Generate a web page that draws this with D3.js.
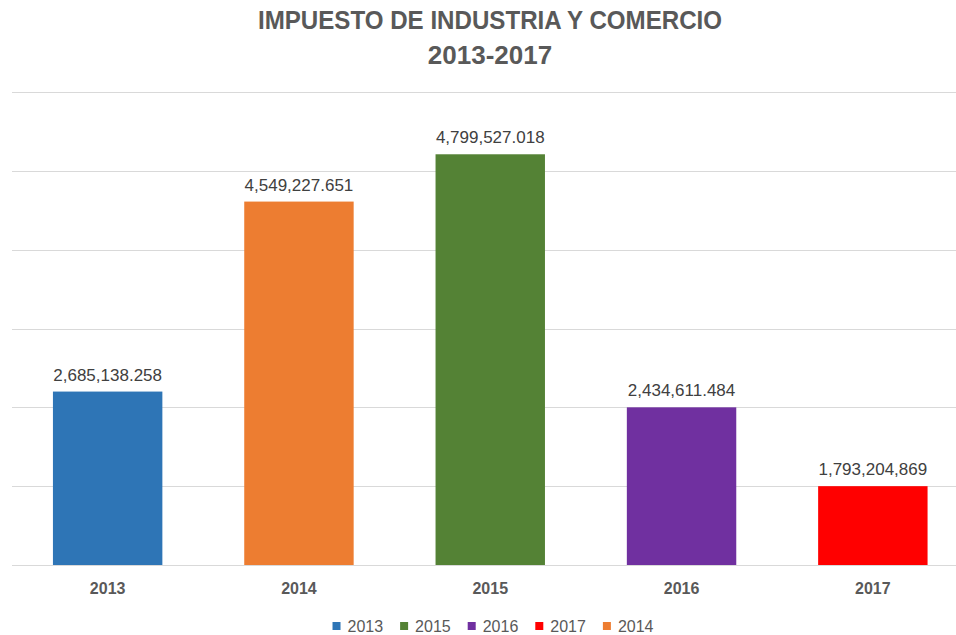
<!DOCTYPE html>
<html lang="es">

<head>
    <meta charset="utf-8">
    <title>Impuesto de Industria y Comercio</title>
    <script type="text/javascript" src="https://d3js.org/d3.v7.min.js"></script>
    <style>
        body { margin: 0; background: #fff; }
        svg { display: block; font-family: "Liberation Sans", Arial, sans-serif; }
    </style>
</head>

<body>
    <div id="container"></div>
    <script type="text/javascript">
        // data (bar heights in gridline units, labels as printed)
        var years = ["2013", "2014", "2015", "2016", "2017"];
        var barValues = [2.2, 4.61, 5.21, 2.0, 1.0];
        var valueLabels = ["2,685,138.258", "4,549,227.651", "4,799,527.018", "2,434,611.484", "1,793,204,869"];
        var barColors = ["#2E75B6", "#ED7D31", "#548235", "#7030A0", "#FF0000"];
        var legendOrder = ["2013", "2015", "2016", "2017", "2014"];
        var yTicks = [0, 1, 2, 3, 4, 5, 6];
        var titleLines = ["IMPUESTO DE INDUSTRIA Y COMERCIO", "2013-2017"];

        var w = 956;
        var h = 635;
        var cx = 490; // chart is centred slightly right of the window centre

        const svg = d3.select("div#container")
            .append("svg")
            .attr("width", w)
            .attr("height", h)
            .style("background-color", "#fff");

        var x = d3.scaleBand()
            .domain(years)
            .range([12, 968.5])
            .paddingInner(0.428)
            .paddingOuter(0.214);

        var y = d3.scaleLinear()
            .domain([0, 6])
            .range([565, 92]);

        // title
        svg.selectAll("text.title")
            .data(titleLines)
            .enter()
            .append("text")
            .attr("class", "title")
            .attr("x", cx)
            .attr("y", (d, i) => i == 0 ? 28.5 : 63.5)
            .attr("text-anchor", "middle")
            .style("font-size", "26px")
            .style("font-weight", "bold")
            .style("fill", "#595959")
            .text((d) => d)
            .each(function (d, i) {
                if (i == 0) d3.select(this).attr("textLength", 464).attr("lengthAdjust", "spacingAndGlyphs");
            });

        // gridlines
        svg.append("g")
            .selectAll("line")
            .data(yTicks)
            .enter()
            .append("line")
            .attr("x1", 12)
            .attr("x2", w)
            .attr("y1", (d) => Math.round(y(d)) + 0.5)
            .attr("y2", (d) => Math.round(y(d)) + 0.5)
            .style("stroke", "#d9d9d9")
            .style("stroke-width", 1);

        // bars
        svg.append("g")
            .selectAll("rect")
            .data(years)
            .enter()
            .append("rect")
            .attr("x", (d) => x(d))
            .attr("width", x.bandwidth())
            .attr("y", (d, i) => y(barValues[i]))
            .attr("height", (d, i) => y(0) - y(barValues[i]))
            .style("fill", (d, i) => barColors[i]);

        // value labels
        svg.append("g")
            .selectAll("text")
            .data(years)
            .enter()
            .append("text")
            .attr("x", (d) => x(d) + x.bandwidth() / 2)
            .attr("y", (d, i) => y(barValues[i]) - 11)
            .attr("text-anchor", "middle")
            .style("font-size", "17px")
            .style("fill", "#404040")
            .text((d, i) => valueLabels[i]);

        // category axis
        var xAxis = svg.append("g")
            .attr("transform", "translate(0," + y(0) + ")")
            .call(d3.axisBottom(x).tickSize(0).tickPadding(18));
        xAxis.select(".domain").remove();
        xAxis.selectAll("text")
            .style("font-family", "Liberation Sans, Arial, sans-serif")
            .style("font-size", "16px")
            .style("font-weight", "bold")
            .style("fill", "#595959");

        // legend
        var legend = svg.append("g");
        var items = legend.selectAll("g")
            .data(legendOrder)
            .enter()
            .append("g");
        items.append("rect")
            .attr("width", 8)
            .attr("height", 8)
            .attr("y", 622)
            .style("fill", (d) => barColors[years.indexOf(d)]);
        items.append("text")
            .attr("x", 15)
            .attr("y", 631.5)
            .style("font-size", "16px")
            .style("fill", "#595959")
            .text((d) => d);

        var pos = 0;
        var widths = [];
        items.each(function () {
            var tw = d3.select(this).select("text").node().getComputedTextLength();
            widths.push(15 + tw);
        });
        var gap = 17;
        var total = d3.sum(widths) + gap * (widths.length - 1);
        var start = 493 - total / 2;
        items.attr("transform", function (d, i) {
            var t = "translate(" + (start + pos) + ",0)";
            pos += widths[i] + gap;
            return t;
        });
    </script>
</body>

</html>
